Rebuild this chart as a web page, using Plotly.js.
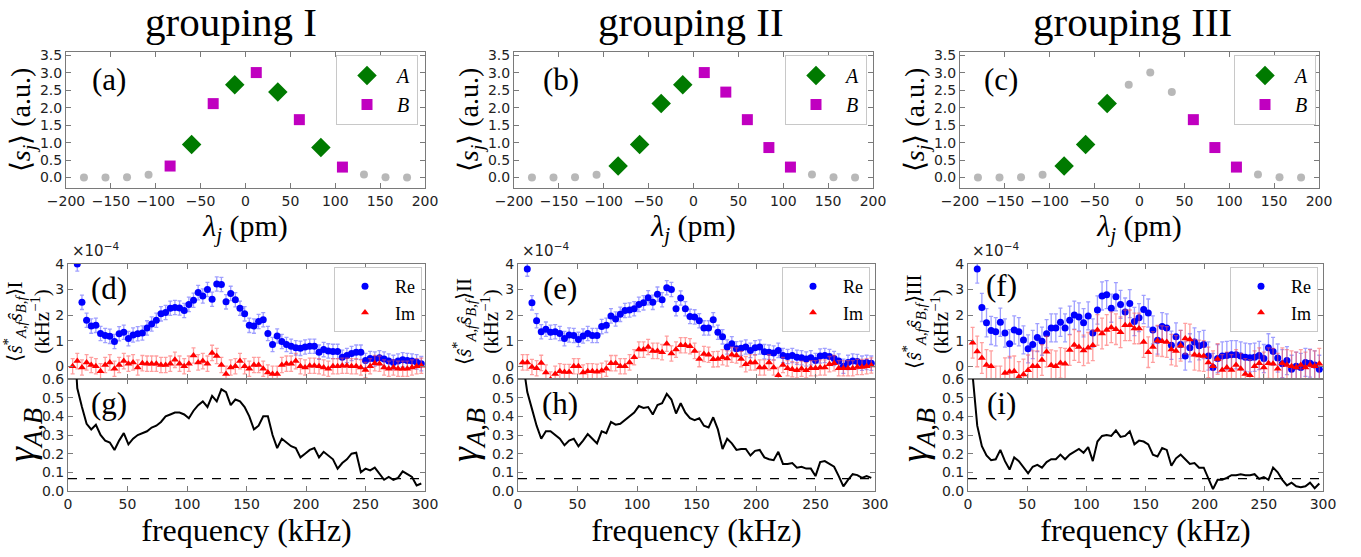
<!DOCTYPE html>
<html><head><meta charset="utf-8">
<script src="https://cdn.plot.ly/plotly-3.0.1.min.js"></script>
<style>html,body{margin:0;padding:0;background:#fff}#chart{width:1361px;height:557px}</style>
</head><body><div id="chart"></div>
<script>
// ---------- data: top row ----------
const lambdaPm   = [-180,-156,-132,-108,-84,-60,-36,-12,12,36,60,84,108,132,156,180];
const meanSignal = [0.00,0.00,0.01,0.08,0.33,0.95,2.12,2.66,3.01,2.45,1.66,0.86,0.30,0.09,0.01,0.00];
const groupingI   = ['-','-','-','-','B','A','B','A','B','A','B','A','B','-','-','-'];
const groupingII  = ['-','-','-','-','A','A','A','A','B','B','B','B','B','-','-','-'];
const groupingIII = ['-','-','-','-','A','A','A','-','-','-','B','B','B','-','-','-'];
const groupingNames = ['I','II','III'];

// ---------- data: frequency axis ----------
const freqKHz = [3.91,7.81,11.72,15.63,19.53,23.44,27.34,31.25,35.16,39.06,42.97,46.88,50.78,54.69,58.59,62.5,66.41,70.31,74.22,78.13,
82.03,85.94,89.84,93.75,97.66,101.56,105.47,109.38,113.28,117.19,121.09,125,128.91,132.81,136.72,140.63,144.53,148.44,152.34,156.25,
160.16,164.06,167.97,171.88,175.78,179.69,183.59,187.5,191.41,195.31,199.22,203.13,207.03,210.94,214.84,218.75,222.66,226.56,230.47,234.38,
238.28,242.19,246.09,250,253.91,257.81,261.72,265.63,269.53,273.44,277.34,281.25,285.16,289.06,292.97,296.88];

// cross spectrum (units of 1e-4 kHz^-1)
const reI = [null,4.0,2.5,1.8,1.57,1.6,1.28,1.2,1.17,0.97,1.27,
1.33,1.08,1.22,1.27,1.3,1.5,1.65,1.8,2.05,2.1,
2.27,2.3,2.28,2.18,2.42,2.58,2.88,2.75,3.0,2.62,
3.22,3.2,2.52,2.85,2.6,2.27,2.05,1.6,1.57,1.75,
1.82,1.28,0.85,1.18,0.97,0.85,0.78,0.72,0.7,0.75,
0.78,0.78,0.55,0.65,0.6,0.58,0.58,0.35,0.42,0.5,
0.55,0.55,0.22,0.3,0.28,0.33,0.28,0.2,0.15,0.2,
0.25,0.22,0.2,0.17,0.1];
const imI = [0.0,0.2,-0.05,0.15,0.05,0.0,-0.2,0.05,0.15,-0.1,
0.05,0.2,0.1,0.15,-0.05,0.12,0.1,0.1,0.1,0.05,
0.05,0.1,0.25,0.1,0.0,0.1,0.42,0.15,0.2,0.1,
0.52,0.4,0.05,-0.3,-0.05,0.0,0.2,0.0,-0.1,0.05,
0.05,-0.1,-0.25,-0.3,-0.3,0.05,0.1,0.1,0.2,0.0,
-0.05,0.02,0.02,0.0,-0.05,-0.1,0.0,0.0,0.02,0.02,
0.0,0.0,-0.05,-0.15,0.0,0.12,0.1,-0.05,-0.1,-0.05,
-0.1,-0.1,-0.1,-0.05,0.0,0.02];
const reII = [null,3.8,2.48,1.78,1.35,1.45,1.33,1.35,1.28,1.08,1.22,
1.2,1.05,1.18,1.28,1.2,1.2,1.55,1.6,1.97,1.85,
2.03,2.18,2.2,2.25,2.42,2.48,2.68,2.5,2.82,2.6,
3.07,3.0,2.25,2.67,2.25,1.95,1.93,1.78,1.5,1.5,
1.82,1.33,1.15,0.75,0.88,0.68,0.7,0.75,0.62,0.72,
0.75,0.57,0.55,0.52,0.62,0.42,0.38,0.42,0.35,0.33,
0.28,0.33,0.22,0.4,0.42,0.38,0.3,0.2,0.0,0.15,
0.2,0.18,0.12,0.15,0.12];
const imII = [0.15,0.15,-0.03,-0.08,0.13,-0.25,-0.52,-0.3,-0.2,-0.23,
-0.23,0.0,0.0,-0.25,-0.2,-0.2,-0.22,-0.18,-0.1,0.12,
0.12,0.0,0.0,0.15,0.35,0.65,0.65,0.75,0.6,0.6,
0.55,0.88,0.5,0.65,0.82,0.82,0.78,0.6,0.28,0.48,
0.45,0.27,0.28,0.35,0.3,0.45,0.42,0.28,0.08,0.15,
0.15,-0.05,-0.05,0.15,-0.05,-0.35,0.05,-0.08,-0.12,-0.16,
-0.1,-0.16,-0.08,-0.08,-0.05,-0.05,0.08,0.12,-0.08,-0.08,
-0.08,-0.08,-0.03,-0.03,0.0,0.03];
const reIII = [null,3.8,2.3,1.7,1.4,1.35,1.72,1.3,0.88,1.42,1.35,
1.03,0.68,0.85,1.12,0.98,1.27,1.5,1.5,1.72,1.5,
1.8,2.0,1.93,1.7,1.97,1.3,2.2,2.75,2.8,2.27,
2.72,2.42,2.12,2.45,1.75,1.9,2.22,2.08,1.42,1.02,
1.55,1.5,0.82,1.15,0.85,0.4,0.72,0.95,0.8,0.85,
0.4,-0.05,0.3,0.4,0.42,0.45,0.45,0.4,0.35,0.33,
0.35,0.42,0.3,0.72,0.58,0.32,0.1,0.22,-0.12,0.0,
-0.05,0.15,0.12,0.05,-0.12];
const imIII = [0.92,0.58,0.32,0.05,0.0,-0.6,-0.6,-0.27,-0.22,-0.2,
-0.42,-0.32,-0.16,0.0,0.0,0.24,0.57,0.04,0.0,0.13,
0.1,0.63,0.83,0.75,0.62,0.72,0.82,1.42,1.28,1.42,
1.52,1.45,1.33,1.6,1.6,1.48,1.48,0.95,0.55,0.75,
1.0,0.98,0.95,0.65,0.6,0.8,1.08,1.05,0.45,0.42,
0.4,0.15,0.0,0.28,-0.15,-0.05,-0.15,0.05,-0.1,-0.3,
-0.35,0.0,0.12,-0.05,0.12,0.1,-0.1,0.12,0.05,0.0,
-0.05,0.05,-0.05,0.05,0.0,0.1];
const reErr = [0.28,0.28,0.55];
const imErr = [0.3,0.3,0.6];

// coherence
const gammaI = [0.95,0.55,0.45,0.36,0.33,0.355,0.30,0.27,0.26,0.22,
0.27,0.31,0.25,0.28,0.30,0.31,0.32,0.34,0.35,0.37,
0.40,0.41,0.42,0.42,0.41,0.39,0.43,0.46,0.48,0.45,
0.51,0.48,0.545,0.53,0.46,0.49,0.48,0.45,0.40,0.33,
0.35,0.40,0.40,0.30,0.23,0.28,0.26,0.24,0.23,0.18,
0.20,0.22,0.23,0.18,0.21,0.19,0.17,0.12,0.15,0.17,
0.20,0.205,0.10,0.12,0.11,0.125,0.09,0.06,0.075,0.06,
0.07,0.105,0.09,0.075,0.03,0.04];
const gammaII = [0.7,0.53,0.44,0.35,0.28,0.32,0.32,0.30,0.28,0.245,
0.27,0.28,0.24,0.27,0.305,0.28,0.255,0.32,0.31,0.37,
0.355,0.36,0.38,0.40,0.42,0.455,0.445,0.45,0.41,0.46,
0.47,0.52,0.49,0.415,0.47,0.42,0.39,0.38,0.39,0.35,
0.34,0.395,0.33,0.225,0.28,0.255,0.22,0.225,0.225,0.19,
0.215,0.22,0.18,0.17,0.165,0.21,0.145,0.145,0.15,0.125,
0.13,0.12,0.12,0.08,0.155,0.16,0.145,0.13,0.08,0.025,
0.06,0.09,0.085,0.07,0.08,0.07];
const gammaIII = [0.62,0.35,0.24,0.19,0.165,0.17,0.22,0.16,0.115,0.18,
0.16,0.13,0.095,0.13,0.14,0.125,0.155,0.17,0.17,0.195,
0.17,0.195,0.21,0.225,0.205,0.235,0.16,0.265,0.295,0.30,
0.295,0.325,0.29,0.295,0.32,0.25,0.27,0.265,0.25,0.195,
0.185,0.23,0.22,0.135,0.175,0.195,0.17,0.145,0.15,0.125,
0.125,0.07,0.01,0.06,0.06,0.07,0.085,0.085,0.09,0.085,
0.085,0.09,0.065,0.075,0.06,0.125,0.10,0.06,0.03,0.045,
0.025,0.02,0.025,0.045,0.015,0.04];
const significanceLevel = 0.066;

// ---------- layout geometry ----------
const W = 1361, H = 557;
const colsTop = [[66,425],[514,873],[960,1319]];
const colsLow = [[68,425],[518,875],[968,1323]];
const rowTop = [52,188], rowMid = [264,379], rowBot = [379,491];
const xd = c => [c[0]/W, c[1]/W];
const yd = r => [1 - r[1]/H, 1 - r[0]/H];

const SERIF = 'Liberation Serif, Times New Roman, serif';
const SANS = 'DejaVu Sans, sans-serif';
const FRAME = '#7a7a7a';

function axis(domain, range, anchor, extra) {
  return Object.assign({
    domain, range, anchor, showline: true, mirror: 'ticks', linecolor: FRAME, linewidth: 1,
    ticks: 'inside', ticklen: 5, tickwidth: 1, tickcolor: FRAME, showgrid: false, zeroline: false,
    tickfont: {family: SANS, size: 14, color: '#222'}, fixedrange: true
  }, extra);
}

const traces = [];
const layout = {
  width: W, height: H, margin: {l: 0, r: 0, t: 0, b: 0},
  paper_bgcolor: '#fff', plot_bgcolor: '#fff', showlegend: true,
  annotations: [], shapes: []
};
const sfx = n => (n === 1 ? '' : String(n));

// ---------- top row ----------
[groupingI, groupingII, groupingIII].forEach((grp, i) => {
  const n = i + 1, s = sfx(n);
  const pick = lab => ({
    x: lambdaPm.filter((_, j) => grp[j] === lab),
    y: meanSignal.filter((_, j) => grp[j] === lab)
  });
  const leg = 'legend' + s;
  traces.push(Object.assign({type: 'scatter', mode: 'markers', xaxis: 'x' + s, yaxis: 'y' + s,
    marker: {symbol: 'circle', size: 8, color: '#b8b8b8'}, showlegend: false, hoverinfo: 'skip'}, pick('-')));
  traces.push(Object.assign({type: 'scatter', mode: 'markers', xaxis: 'x' + s, yaxis: 'y' + s, name: '<i>A</i>', legend: leg,
    marker: {symbol: 'diamond', size: 15, color: '#007a00', line: {width: 0}}}, pick('A')));
  traces.push(Object.assign({type: 'scatter', mode: 'markers', xaxis: 'x' + s, yaxis: 'y' + s, name: '<i>B</i>', legend: leg,
    marker: {symbol: 'square', size: 11, color: '#c000c0', line: {width: 0}}}, pick('B')));
  layout['xaxis' + s] = axis(xd(colsTop[i]), [-200, 200], 'y' + s, {tick0: -200, dtick: 50,
    title: {text: '<i>λ</i><sub><i>j</i></sub> (pm)', font: {family: SERIF, size: 30, color: '#000'}, standoff: 6}});
  layout['yaxis' + s] = axis(yd(rowTop), [-0.3, 3.6], 'x' + s, {tick0: 0, dtick: 0.5, tickformat: '.1f',
    title: {text: '⟨<i>s</i><sub><i>j</i></sub>⟩ (a.u.)', font: {family: SERIF, size: 28, color: '#000'}, standoff: 1}});
  layout[leg] = {x: [418, 867, 1316][i] / W, y: 1 - 55 / H, xanchor: 'right', yanchor: 'top',
    bgcolor: '#fff', bordercolor: '#c8c8c8', borderwidth: 1, font: {family: SERIF, size: 20, color: '#000'},
    itemwidth: 50, tracegroupgap: 0};
  layout.annotations.push({text: 'grouping ' + groupingNames[i], xref: 'paper', yref: 'paper',
    x: [231, 691, 1132][i] / W, y: 1 - 22 / H, xanchor: 'center', yanchor: 'middle', showarrow: false,
    font: {family: SERIF, size: 41, color: '#000'}});
  layout.annotations.push({text: '(' + 'abc'[i] + ')', xref: 'paper', yref: 'paper',
    x: [109, 561, 1001][i] / W, y: 1 - 80 / H, xanchor: 'center', yanchor: 'middle', showarrow: false,
    font: {family: SERIF, size: 31, color: '#000'}});
});

// ---------- middle row ----------
const reSeries = [reI, reII, reIII], imSeries = [imI, imII, imIII];
[0, 1, 2].forEach(i => {
  const n = i + 4, s = sfx(n);
  const leg = 'legend' + s;
  traces.push({type: 'scatter', mode: 'markers', name: 'Re', legend: leg, xaxis: 'x' + s, yaxis: 'y' + s,
    x: freqKHz, y: reSeries[i],
    marker: {symbol: 'circle', size: 7, color: '#0000ff'},
    error_y: {type: 'constant', value: reErr[i], color: 'rgba(80,80,255,0.55)', thickness: 1.3, width: 2}});
  traces.push({type: 'scatter', mode: 'markers', name: 'Im', legend: leg, xaxis: 'x' + s, yaxis: 'y' + s,
    x: freqKHz, y: imSeries[i],
    marker: {symbol: 'triangle-up', size: 7, color: '#ff0000'},
    error_y: {type: 'constant', value: imErr[i], color: 'rgba(255,80,80,0.55)', thickness: 1.3, width: 2}});
  layout['xaxis' + s] = axis(xd(colsLow[i]), [0, 300], 'y' + s, {tick0: 0, dtick: 50, showticklabels: false});
  layout['yaxis' + s] = axis(yd(rowMid), [-0.5, 4], 'x' + s, {tick0: 0, dtick: 1,
    title: {text: '⟨<i>ŝ</i><sup>*</sup><sub><i>A,f</i></sub><i>ŝ</i><sub><i>B,f</i></sub>⟩' + groupingNames[i] + '<br>(kHz<sup>−1</sup>)',
      font: {family: SERIF, size: 21, color: '#000'}, standoff: 0}});
  layout[leg] = {x: [422, 870, 1318][i] / W, y: 1 - 267 / H, xanchor: 'right', yanchor: 'top',
    bgcolor: '#fff', bordercolor: '#c8c8c8', borderwidth: 1, font: {family: SERIF, size: 18, color: '#000'},
    itemwidth: 50, tracegroupgap: 0};
  layout.annotations.push({text: '×10<sup>−4</sup>', xref: 'paper', yref: 'paper',
    x: (colsLow[i][0] + 2) / W, y: 1 - 262 / H, xanchor: 'left', yanchor: 'bottom', showarrow: false,
    font: {family: SANS, size: 15, color: '#222'}});
  layout.annotations.push({text: '(' + 'def'[i] + ')', xref: 'paper', yref: 'paper',
    x: [109, 560, 1001][i] / W, y: 1 - [289, 289, 285][i] / H, xanchor: 'center', yanchor: 'middle', showarrow: false,
    font: {family: SERIF, size: 31, color: '#000'}});
});

// ---------- bottom row ----------
const gammaSeries = [gammaI, gammaII, gammaIII];
[0, 1, 2].forEach(i => {
  const n = i + 7, s = sfx(n);
  traces.push({type: 'scatter', mode: 'lines', xaxis: 'x' + s, yaxis: 'y' + s, x: freqKHz, y: gammaSeries[i],
    line: {color: '#000', width: 2}, showlegend: false});
  layout['xaxis' + s] = axis(xd(colsLow[i]), [0, 300], 'y' + s, {tick0: 0, dtick: 50,
    title: {text: 'frequency (kHz)', font: {family: SERIF, size: 32, color: '#000'}, standoff: 6}});
  layout['yaxis' + s] = axis(yd(rowBot), [0, 0.6], 'x' + s, {tick0: 0, dtick: 0.1, tickformat: '.1f',
    title: {text: '<i>γ</i><sub><i>A,B</i></sub>', font: {family: SERIF, size: 38, color: '#000'}, standoff: 2}});
  layout.shapes.push({type: 'line', xref: 'x' + s + ' domain', x0: 0, x1: 1, yref: 'y' + s,
    y0: significanceLevel, y1: significanceLevel, line: {color: '#000', width: 1.3, dash: 'dash'}});
  layout.annotations.push({text: '(' + 'ghi'[i] + ')', xref: 'paper', yref: 'paper',
    x: [109, 560, 1001][i] / W, y: 1 - 403 / H, xanchor: 'center', yanchor: 'middle', showarrow: false,
    font: {family: SERIF, size: 31, color: '#000'}});
});

Plotly.newPlot('chart', traces, layout, {displayModeBar: false, staticPlot: true});
</script>
</body></html>
